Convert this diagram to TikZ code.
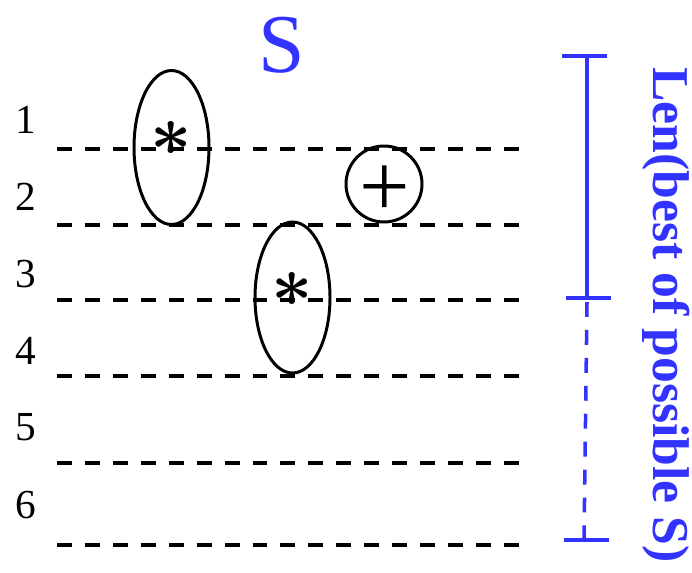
\documentclass[tikz,border=0pt]{standalone}
\usepackage{fontspec}
\setmainfont{Liberation Serif}
\usepackage{xcolor}
\definecolor{lenblue}{RGB}{51,51,255}

\tikzset{
  rowline/.style={line width=2.3pt,dash pattern=on 8.5pt off 7.4pt},
  groupring/.style={line width=1.7pt},
  barline/.style={line width=2pt,lenblue},
  mark glyph/.style={inner sep=0,anchor=center},
}

\begin{document}
\begin{tikzpicture}[x=0.02cm,y=-0.02cm]
  \useasboundingbox (0,0) rectangle (692,572);

  % --- Title ---
  \node[lenblue,font=\fontsize{47.6}{50}\selectfont,inner sep=0,anchor=base] (title) at (282,72) {S};

  % --- Rows: numbers and dashed separators ---
  \foreach \i/\yb/\yl in {1/133/149, 2/210/225, 3/287/300, 4/364/376, 5/440/463, 6/518/545} {
    \node[font=\fontsize{23.5}{26}\selectfont,inner sep=0,anchor=base] (row\i) at (26,\yb) {\i};
    \draw[rowline] (57,\yl) -- (522,\yl);
  }

  % --- Groups ---
  \draw[groupring] (171.5,147.5) ellipse [x radius=37.5,y radius=77];
  \node[mark glyph,font=\boldmath,scale=4.1] (astA) at (171,138) {$\ast$};

  \draw[groupring] (292.5,297.5) ellipse [x radius=37.5,y radius=75.5];
  \node[mark glyph,font=\boldmath,scale=4.1] (astB) at (292,289) {$\ast$};

  \draw[groupring] (384,184) circle (38);
  \node[mark glyph,font=\fontsize{51}{53}\selectfont] (plus) at (385,191) {+};

  % --- Length bar ---
  \coordinate (bartop) at (587,56);
  \coordinate (barmid) at (587,298);
  \coordinate (barbot) at (584,540);
  \draw[barline] (bartop) -- (barmid);
  \draw[barline,dash pattern=on 8.5pt off 7.4pt] (barmid) ++(0,4) -- (barbot);
  \draw[barline] (562,56) -- (607,56);
  \draw[barline] (566,298) -- (611,298);
  \draw[barline] (564,540) -- (609,540);

  % Label
  \node[lenblue,font=\bfseries\fontsize{29.4}{31}\selectfont,rotate=-90,inner sep=0,anchor=base] (lenlabel) at (653,315) {Len(best of possible S)};
\end{tikzpicture}
\end{document}
